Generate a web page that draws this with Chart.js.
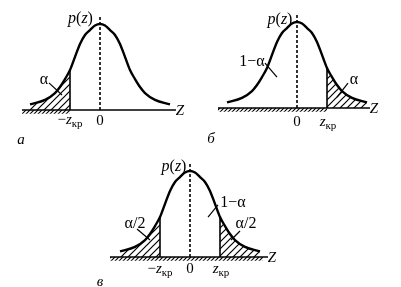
<!DOCTYPE html>
<html>
<head>
<meta charset="utf-8">
<script src="https://cdn.jsdelivr.net/npm/chart.js@4.4.1/dist/chart.umd.min.js"></script>
<style>
  body { margin: 0; background: #fff; }
  canvas { position: absolute; left: 0; top: 0; }
</style>
</head>
<body>
<canvas id="chartA" width="401" height="287"></canvas>
<canvas id="chartB" width="401" height="287"></canvas>
<canvas id="chartC" width="401" height="287"></canvas>
<script>
'use strict';

// плотность p(z) (z в единицах sigma)
const zValues = [-2.8, -2.2, -1.8, -1.6, -1.4, -1.2, -1.0, -0.8, -0.6, -0.4, -0.2, 0, 0.2, 0.4, 0.6, 0.8, 1.0, 1.2, 1.4, 1.6, 1.8, 2.2, 2.8];
const pValues = [0.026, 0.047, 0.079, 0.107, 0.144, 0.186, 0.247, 0.307, 0.349, 0.372, 0.393, 0.400, 0.393, 0.372, 0.349, 0.307, 0.247, 0.186, 0.144, 0.107, 0.079, 0.047, 0.026];
const zKp = 1.2;
const pKp = pValues[zValues.indexOf(zKp)];

const W = 401, H = 287;
const PX_Z = 25;   // px на единицу z
const PX_P = 215;  // px на единицу p
const INK = '#000';
const FONT = '"Liberation Serif", "DejaVu Serif", serif';

// подписи
const P_Z = [['p', 'i'], ['(', ''], ['z', 'i'], [')', '']];
const Z_KP = [['z', 'i'], ['кр', 's']];
const MZ_KP = [['−', ''], ['z', 'i'], ['кр', 's']];

const panels = [
  {
    id: 'chartA', cx: 100, axisY: 110, tails: ['left'],
    axis: [-3.12, 3.04], ground: [-3.12, -zKp],
    labels: [
      { runs: P_Z, x: -0.78, y: 0.405, size: 16 },
      { runs: [['α', '']], x: -2.24, y: 0.123, size: 16 },
      { runs: MZ_KP, x: -zKp, y: -0.065, size: 15 },
      { runs: [['0', '']], x: 0, y: -0.07, size: 15 },
      { runs: [['Z', 'i']], x: 3.2, y: -0.023, size: 15 },
      { runs: [['а', 'i']], x: -3.16, y: -0.158, size: 15 }
    ],
    leaders: [[-2.04, 0.126, -1.52, 0.07]]
  },
  {
    id: 'chartB', cx: 297, axisY: 108, tails: ['right'],
    axis: [-3.16, 2.92], ground: [-3.16, zKp],
    labels: [
      { runs: P_Z, x: -0.68, y: 0.393, size: 16 },
      { runs: [['1−α', '']], x: -1.8, y: 0.195, size: 16 },
      { runs: [['α', '']], x: 2.28, y: 0.112, size: 16 },
      { runs: [['0', '']], x: 0, y: -0.084, size: 15 },
      { runs: Z_KP, x: 1.24, y: -0.084, size: 15 },
      { runs: [['Z', 'i']], x: 3.08, y: -0.023, size: 15 },
      { runs: [['б', 'i']], x: -3.44, y: -0.163, size: 15 }
    ],
    leaders: [[-1.28, 0.209, -0.8, 0.144], [2.04, 0.116, 1.6, 0.051]]
  },
  {
    id: 'chartC', cx: 190, axisY: 257, tails: ['left', 'right'],
    axis: [-3.2, 3.12], ground: [-3.2, 2.92],
    labels: [
      { runs: P_Z, x: -0.64, y: 0.4, size: 16 },
      { runs: [['α/2', '']], x: -2.2, y: 0.135, size: 16 },
      { runs: [['1−α', '']], x: 1.72, y: 0.233, size: 16 },
      { runs: [['α/2', '']], x: 2.24, y: 0.135, size: 16 },
      { runs: MZ_KP, x: -zKp, y: -0.074, size: 15 },
      { runs: [['0', '']], x: 0, y: -0.074, size: 15 },
      { runs: Z_KP, x: 1.24, y: -0.074, size: 15 },
      { runs: [['Z', 'i']], x: 3.28, y: -0.023, size: 15 },
      { runs: [['в', 'i']], x: -3.6, y: -0.135, size: 15 }
    ],
    leaders: [[-2.12, 0.13, -1.6, 0.079], [1.12, 0.242, 0.72, 0.186], [2.0, 0.121, 1.64, 0.079]]
  }
];

function makeHatch(ctx, size, width) {
  const c = document.createElement('canvas');
  c.width = size; c.height = size;
  const g = c.getContext('2d');
  g.strokeStyle = INK; g.lineWidth = width;
  g.beginPath();
  g.moveTo(-1, size + 1); g.lineTo(size + 1, -1);
  g.moveTo(-1, 1); g.lineTo(1, -1);
  g.moveTo(size - 1, size + 1); g.lineTo(size + 1, size - 1);
  g.stroke();
  return ctx.createPattern(c, 'repeat');
}

function runFont(r, size) {
  const s = r[1] === 's' ? Math.round(size * 0.7) : size;
  return (r[1] === 'i' ? 'italic ' : '') + s + 'px ' + FONT;
}

function drawRuns(ctx, runs, px, py, size) {
  let total = 0;
  const widths = runs.map(function(r) {
    ctx.font = runFont(r, size);
    const w = ctx.measureText(r[0]).width;
    total += w;
    return w;
  });
  let x = px - total / 2;
  runs.forEach(function(r, i) {
    ctx.font = runFont(r, size);
    ctx.fillText(r[0], x, r[1] === 's' ? py + size * 0.22 : py);
    x += widths[i];
  });
}

const textPlugin = {
  id: 'texts',
  afterDatasetsDraw(chart, args, opts) {
    const ctx = chart.ctx;
    const sx = chart.scales.x, sy = chart.scales.y;
    ctx.save();
    ctx.fillStyle = INK;
    ctx.strokeStyle = INK;
    ctx.lineWidth = 1.2;
    ctx.textBaseline = 'alphabetic';
    (opts.leaders || []).forEach(function(l) {
      ctx.beginPath();
      ctx.moveTo(sx.getPixelForValue(l[0]), sy.getPixelForValue(l[1]));
      ctx.lineTo(sx.getPixelForValue(l[2]), sy.getPixelForValue(l[3]));
      ctx.stroke();
    });
    (opts.labels || []).forEach(function(l) {
      drawRuns(ctx, l.runs, sx.getPixelForValue(l.x), sy.getPixelForValue(l.y), l.size);
    });
    ctx.restore();
  }
};

function seg(x0, y0, x1, y1, width, dash) {
  return {
    data: [{ x: x0, y: y0 }, { x: x1, y: y1 }],
    borderColor: INK, borderWidth: width, borderDash: dash || [],
    pointRadius: 0, fill: false
  };
}

panels.forEach(function(p) {
  const ctx = document.getElementById(p.id).getContext('2d');
  const hatch = makeHatch(ctx, 7, 1.2);
  const ground = makeHatch(ctx, 4, 1.1);
  const curve = zValues.map(function(z, i) { return { x: z, y: pValues[i] }; });
  const datasets = [];

  // кривая
  datasets.push({
    data: curve, borderColor: INK, borderWidth: 2.4, pointRadius: 0,
    fill: false, cubicInterpolationMode: 'monotone'
  });
  // критические границы и нуль
  p.tails.forEach(function(side) {
    const zb = side === 'left' ? -zKp : zKp;
    datasets.push(seg(zb, 0, zb, pKp, 1.6));
  });
  datasets.push(seg(0, 0, 0, 0.44, 1.6, [3, 2]));
  // ось Z
  datasets.push(seg(p.axis[0], 0, p.axis[1], 0, 1.6));
  // заштрихованные хвосты
  p.tails.forEach(function(side) {
    const part = curve.filter(function(pt) { return side === 'left' ? pt.x <= -zKp : pt.x >= zKp; });
    datasets.push({
      data: part, borderWidth: 0, pointRadius: 0,
      fill: 'origin', backgroundColor: hatch, cubicInterpolationMode: 'monotone'
    });
  });
  // штриховка под осью
  datasets.push({
    data: [{ x: p.ground[0], y: 0 }, { x: p.ground[1], y: 0 }],
    borderWidth: 0, pointRadius: 0,
    fill: { value: -0.017 }, backgroundColor: ground
  });

  new Chart(ctx, {
    type: 'line',
    data: { datasets: datasets },
    options: {
      responsive: false,
      animation: false,
      events: [],
      layout: { padding: 0 },
      plugins: {
        legend: { display: false },
        tooltip: { enabled: false },
        texts: { labels: p.labels, leaders: p.leaders }
      },
      scales: {
        x: { type: 'linear', display: false, min: -p.cx / PX_Z, max: (W - p.cx) / PX_Z },
        y: { display: false, min: -(H - p.axisY) / PX_P, max: p.axisY / PX_P }
      }
    },
    plugins: [textPlugin]
  });
});
</script>
</body>
</html>
